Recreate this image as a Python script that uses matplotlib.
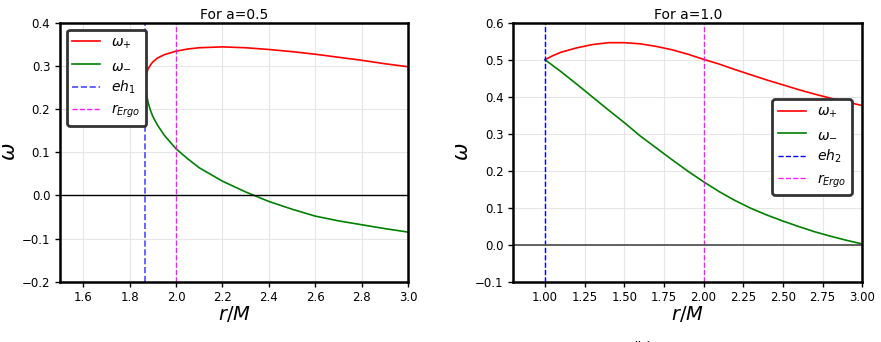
import matplotlib
matplotlib.use("Agg")
import matplotlib.pyplot as plt

# ---- data: a = 0.5 ----
r_h1 = 1.866
r_ergo = 2.0
r1 = [1.866, 1.87, 1.88, 1.89, 1.90, 1.92, 1.95, 2.0, 2.05, 2.1, 2.2, 2.3,
      2.4, 2.5, 2.6, 2.7, 2.8, 2.9, 3.0]
w_plus1 = [0.26, 0.278, 0.293, 0.302, 0.309, 0.318, 0.326, 0.334, 0.339,
           0.342, 0.344, 0.342, 0.338, 0.333, 0.327, 0.320, 0.313, 0.305, 0.298]
w_minus1 = [0.26, 0.241, 0.215, 0.197, 0.183, 0.163, 0.139, 0.108, 0.085,
            0.064, 0.033, 0.008, -0.014, -0.032, -0.048, -0.059, -0.068,
            -0.077, -0.085]

# ---- data: a = 1.0 ----
r_h2 = 1.0
r2 = [1.0, 1.05, 1.1, 1.2, 1.3, 1.4, 1.5, 1.6, 1.7, 1.8, 1.9, 2.0, 2.1, 2.2,
      2.3, 2.4, 2.5, 2.6, 2.7, 2.8, 2.9, 3.0]
w_plus2 = [0.500, 0.511, 0.520, 0.532, 0.541, 0.546, 0.546, 0.543, 0.536,
           0.527, 0.515, 0.501, 0.488, 0.473, 0.459, 0.445, 0.432, 0.419,
           0.407, 0.396, 0.386, 0.376]
w_minus2 = [0.500, 0.484, 0.468, 0.434, 0.399, 0.364, 0.330, 0.294, 0.262,
            0.230, 0.199, 0.170, 0.143, 0.119, 0.098, 0.080, 0.064, 0.049,
            0.035, 0.023, 0.012, 0.002]

xticks1 = [1.6, 1.8, 2.0, 2.2, 2.4, 2.6, 2.8, 3.0]
yticks1 = [-0.2, -0.1, 0.0, 0.1, 0.2, 0.3, 0.4]
xticks2 = [1.00, 1.25, 1.50, 1.75, 2.00, 2.25, 2.50, 2.75, 3.00]
yticks2 = [-0.1, 0.0, 0.1, 0.2, 0.3, 0.4, 0.5, 0.6]

fig = plt.figure(figsize=(8.81, 3.42), dpi=100)
ax1 = fig.add_axes([0.0681, 0.1763, 0.395, 0.7573])
ax2 = fig.add_axes([0.5826, 0.1763, 0.3961, 0.7573])


def style(ax):
    ax.grid(True, color="#e6e6e6", linewidth=0.8)
    ax.set_axisbelow(True)
    for s in ax.spines.values():
        s.set_linewidth(1.8)
        s.set_color("black")
    ax.tick_params(labelsize=8.5, width=1.0, length=3.5)


# left panel
ax1.plot(r1, w_plus1, color="red", lw=1.2, label=r"$\omega_{+}$")
ax1.plot(r1, w_minus1, color="green", lw=1.2, label=r"$\omega_{-}$")
ax1.axvline(r_h1, color="blue", ls="--", lw=1.2, alpha=0.7, label=r"$eh_1$")
ax1.axvline(r_ergo, color="magenta", ls="--", lw=1.0, alpha=0.9, label=r"$r_{Ergo}$")
ax1.axhline(0, color="black", lw=1.0)
ax1.set_xlim(1.5, 3.0)
ax1.set_ylim(-0.2, 0.4)
ax1.set_xticks(xticks1)
ax1.set_yticks(yticks1)
ax1.set_xticklabels([f"{v:.1f}" for v in xticks1])
ax1.set_yticklabels([f"{v:.1f}".replace("-", "\u2212") for v in yticks1])
ax1.set_title("For a=0.5", fontsize=10, pad=3)
ax1.set_xlabel(r"$r/M$", fontsize=14, labelpad=0)
ax1.set_ylabel(r"$\omega$", fontsize=15, labelpad=2)
style(ax1)
leg1 = ax1.legend(loc="upper left", fontsize=10, fancybox=True, framealpha=1,
                  borderaxespad=0.5)
leg1.get_frame().set_edgecolor("#333333")
leg1.get_frame().set_linewidth(2.0)

# right panel
ax2.plot(r2, w_plus2, color="red", lw=1.2, label=r"$\omega_{+}$")
ax2.plot(r2, w_minus2, color="green", lw=1.2, label=r"$\omega_{-}$")
ax2.axvline(r_h2, color="blue", ls="--", lw=1.0, label=r"$eh_2$")
ax2.axvline(r_ergo, color="magenta", ls="--", lw=1.0, alpha=0.9, label=r"$r_{Ergo}$")
ax2.axhline(0, color="#555555", lw=1.3)
ax2.set_xlim(0.8, 3.0)
ax2.set_ylim(-0.1, 0.6)
ax2.set_xticks(xticks2)
ax2.set_yticks(yticks2)
ax2.set_xticklabels([f"{v:.2f}" for v in xticks2])
ax2.set_yticklabels([f"{v:.1f}".replace("-", "\u2212") for v in yticks2])
ax2.set_title("For a=1.0", fontsize=10, pad=3)
ax2.set_xlabel(r"$r/M$", fontsize=14, labelpad=0)
ax2.set_ylabel(r"$\omega$", fontsize=15, labelpad=2)
style(ax2)
leg2 = ax2.legend(loc="center right", fontsize=10, fancybox=True, framealpha=1,
                  bbox_to_anchor=(0.99, 0.52))
leg2.get_frame().set_edgecolor("#333333")
leg2.get_frame().set_linewidth(2.0)

fig.text(643 / 881, -0.015, "(b)", fontsize=10, ha="center", va="center")

fig.savefig("out.png", dpi=100)
